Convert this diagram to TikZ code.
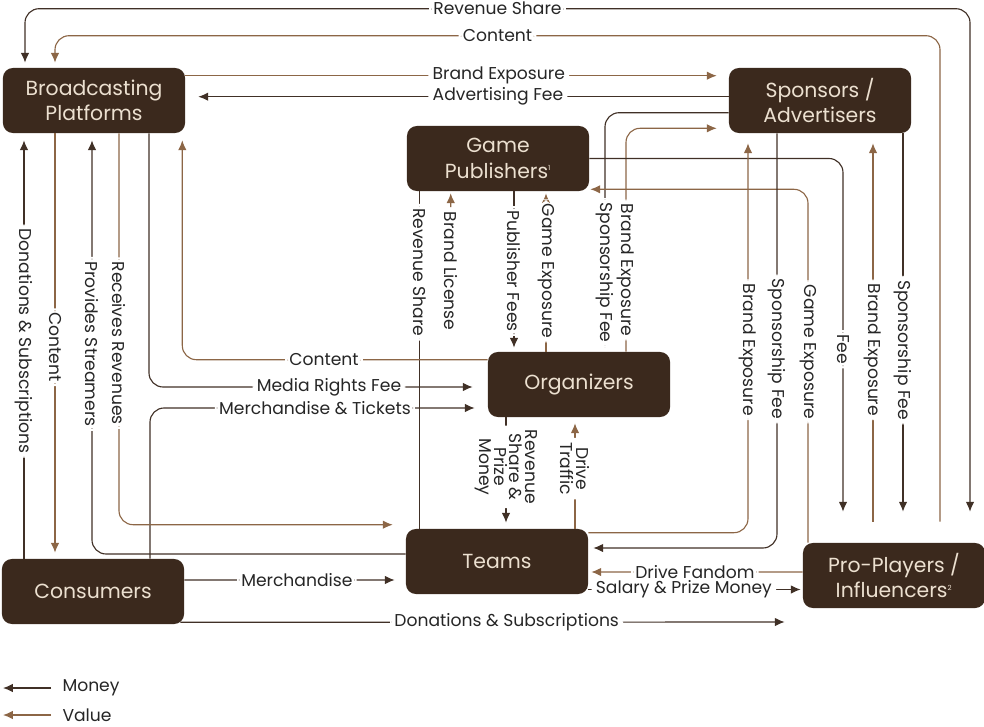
\documentclass[tikz,border=0pt]{standalone}
\usepackage{fontspec}
\setmainfont{Poppins}
\usetikzlibrary{calc,positioning,arrows.meta}

\definecolor{boxbrown}{RGB}{59,41,29}
\definecolor{boxtext}{RGB}{236,224,208}
\definecolor{moneyc}{RGB}{64,48,38}
\definecolor{valuec}{RGB}{140,102,70}

\tikzset{
	box/.style={draw=none, fill=boxbrown, text=boxtext, rounded corners=7pt, minimum width=4.55cm, minimum height=1.625cm, align=center, font=\fontsize{14.5}{18}\selectfont},
	money/.style={draw=moneyc, line width=0.8pt, rounded corners=10pt},
	value/.style={draw=valuec, line width=0.8pt, rounded corners=10pt},
	lbl/.style={fill=white, text=black!85, inner xsep=3pt, inner ysep=0.3pt, align=center, font=\fontsize{12.2}{11}\selectfont},
	vlbl/.style={lbl, rotate=-90},
	>={Latex[length=7pt,width=6pt]}
}

\begin{document}
\begin{tikzpicture}[x=0.025cm,y=-0.025cm]
\useasboundingbox (0,0) rectangle (984,727);

\path (94,100.5) node[box] (bp) {Broadcasting\\Platforms};
\path (820,100.5) node[box] (sa) {Sponsors /\\Advertisers};
\path (498,158.5) node[box] (gp) {Game\\Publishers\textsuperscript{\tiny 1}};
\path (579,384.5) node[box] (org) {Organizers};
\path (497,561.5) node[box] (tm) {Teams};
\path (93,591.5) node[box] (cs) {Consumers};
\path (894,575.5) node[box] (pp) {Pro-Players /\\Influencers\textsuperscript{\tiny 2}};

\draw[money,<->] ($(pp.north)+(76,-31)$) -- ++(0,-503) -- node[lbl]{Revenue Share} ++(-945,0) -- ($(bp.north)+(-69,-5)$);
\draw[value,->] ($(pp.north)+(46,-21)$) -- ++(0,-486) -- node[lbl]{Content} ++(-885,0) -- ($(bp.north)+(-39,-5)$);

\draw[value,->] ($(bp.north east)+(0,8)$) -- node[lbl,pos=0.59]{Brand Exposure} ($(sa.north west)+(-12,8)$);
\draw[money,->] ($(sa.north west)+(0,29)$) -- node[lbl,pos=0.435]{Advertising Fee} ($(bp.north east)+(13,29)$);

\draw[money,->] ($(sa.north west)+(0,45)$) -| node[vlbl,pos=0.84]{Sponsorship Fee} ($(org.north)+(26,-4)$);
\draw[value,->] ($(org.north)+(47,0)$) |- node[vlbl,pos=0.183]{Brand Exposure} ($(sa.south west)+(-12,-5)$);
\draw[money,->] (gp.east) -| node[vlbl,pos=0.77]{Fee} ($(pp.north)+(-51,-31)$);
\draw[value,->] ($(pp.north)+(-86,0)$) |- node[vlbl,pos=0.27]{Game Exposure} ($(gp.south east)+(1,-2)$);
\draw[value,->] ($(tm.north east)+(0,4)$) -| node[vlbl,pos=0.735]{Brand Exposure} ($(sa.south)+(-72,10)$);
\draw[money,->] ($(sa.south)+(-43,0)$) |- node[vlbl,pos=0.26]{Sponsorship Fee} ($(tm.east)+(5,-13.5)$);
\draw[value,->] ($(pp.north)+(-21,-21)$) -- node[vlbl,pos=0.454]{Brand Exposure} ($(sa.south)+(53,10)$);
\draw[money,->] ($(sa.south)+(83,0)$) -- node[vlbl,pos=0.573]{Sponsorship Fee} ($(pp.north)+(9,-31)$);

\draw[money] ($(tm.north west)+(14,0)$) -- node[vlbl,pos=0.76]{Revenue Share} ($(gp.south west)+(13,0)$);
\path (451,271) node[vlbl] (blic) {Brand License};
\draw[value,->] (blic) -- ($(gp.south west)+(44,2)$);
\draw[money,->] ($(gp.south)+(16,0)$) -- node[vlbl,pos=0.51]{Publisher Fees} ($(org.north)+(-65,-4)$);
\draw[value,->] ($(org.north)+(-33,0)$) -- node[vlbl,pos=0.51]{Game Exposure} ($(gp.south)+(48,2)$);

\draw[value,->] ($(org.north west)+(0,8)$) -| node[lbl,pos=0.268]{Content} ($(bp.south east)+(-3,7)$);
\draw[money,->] ($(bp.south)+(55,0)$) |- node[lbl,pos=0.778]{Media Rights Fee} ($(org.west)+(-15,2.5)$);
\draw[money,->] ($(cs.north)+(57,0)$) |- node[lbl,pos=0.754]{Merchandise \& Tickets} ($(org.west)+(-13,23.5)$);

\draw[money,->] ($(cs.north)+(-69,0)$) -- node[vlbl,pos=0.52]{Donations \& Subscriptions} ($(bp.south)+(-70,7)$);
\draw[value,->] ($(bp.south)+(-39,0)$) -- node[vlbl,pos=0.51]{Content} ($(cs.north)+(-38,-6)$);
\draw[money,->] ($(tm.west)+(0,-7.5)$) -| node[vlbl,pos=0.754]{Provides Streamers} ($(bp.south)+(-2,7)$);
\draw[value,->] ($(bp.south)+(25,0)$) |- node[vlbl,pos=0.268]{Receives Revenues} ($(tm.north west)+(-13,-4)$);

\draw[money,->] ($(cs.east)+(0,-11.5)$) -- node[lbl,pos=0.535]{Merchandise} ($(tm.west)+(-11,18.5)$);
\draw[money,->] ($(cs.south east)+(-4,-2)$) -- node[lbl,pos=0.54]{Donations \& Subscriptions} ($(pp.west)+(-18,46.5)$);

\draw[money,->] ($(org.south)+(-73,0)$) -- node[vlbl,pos=0.47]{Revenue\\Share \&\\Prize\\Money} ($(tm.north)+(9,-6)$);
\draw[value,->] ($(tm.north)+(78,0)$) -- node[vlbl,pos=0.57]{Drive\\Traffic} ($(org.south)+(-4,6)$);

\draw[value,->] ($(pp.west)+(0,-3.5)$) -- node[lbl,pos=0.51]{Drive Fandom} ($(tm.east)+(3,10.5)$);
\draw[money,->] ($(tm.east)+(0,28)$) -- node[lbl,pos=0.45]{Salary \& Prize Money} ($(pp.west)+(-2,14)$);

\path (58,688) node[lbl,anchor=west] (lgm) {Money};
\path (58,715) node[lbl,anchor=west] (lgv) {Value};
\coordinate (lgmt) at (3,688);
\coordinate (lgvt) at (3,715);
\draw[money,->] ($(lgm.west)+(-7,0)$) -- (lgmt);
\draw[value,->] ($(lgv.west)+(-7,0)$) -- (lgvt);

\end{tikzpicture}
\end{document}
